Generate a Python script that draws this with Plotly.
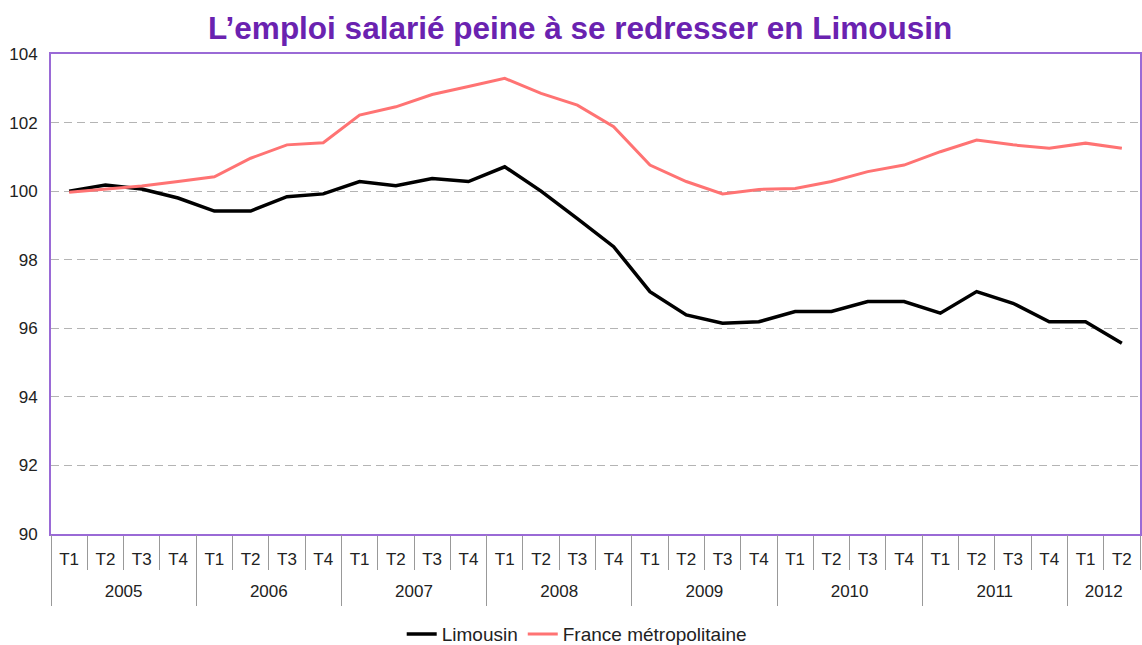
import plotly.graph_objects as go

years = ["2005"] * 4 + ["2006"] * 4 + ["2007"] * 4 + ["2008"] * 4 + ["2009"] * 4 + ["2010"] * 4 + ["2011"] * 4 + ["2012"] * 2
quarters = ["T1", "T2", "T3", "T4"] * 7 + ["T1", "T2"]

limousin = [100.0, 100.18, 100.06, 99.8,
            99.42, 99.42, 99.84, 99.92,
            100.28, 100.16, 100.37, 100.28,
            100.71, 100.0, 99.2, 98.38,
            97.07, 96.39, 96.15, 96.19,
            96.49, 96.49, 96.78, 96.78,
            96.44, 97.07, 96.73, 96.19,
            96.19, 95.56]

france = [99.97, 100.05, 100.15, 100.28,
          100.42, 100.96, 101.35, 101.41,
          102.22, 102.46, 102.82, 103.05,
          103.29, 102.85, 102.51, 101.88,
          100.76, 100.28, 99.92, 100.05,
          100.08, 100.28, 100.57, 100.76,
          101.15, 101.49, 101.35, 101.25,
          101.4, 101.25]

y_ticks = [90, 92, 94, 96, 98, 100, 102, 104]

# positions derived from the category lists
idx = list(range(len(quarters)))
year_names = list(dict.fromkeys(years))
year_centers = [sum(i for i, y in enumerate(years) if y == yn) / years.count(yn) for yn in year_names]
quarter_bounds = [i - 0.5 for i in idx] + [idx[-1] + 0.5]
year_bounds = [years.index(yn) - 0.5 for yn in year_names]
xrange = [idx[0] - 0.5, idx[-1] + 0.5]

FONT = "Liberation Sans, Arial, sans-serif"

fig = go.Figure()
fig.add_trace(go.Scatter(x=idx, y=limousin, mode="lines", name="Limousin",
                         line=dict(color="#000000", width=3.5)))
fig.add_trace(go.Scatter(x=idx, y=france, mode="lines", name="France métropolitaine",
                         line=dict(color="#ff7373", width=3)))

fig.update_layout(
    width=1142, height=645,
    margin=dict(l=51, r=2, t=54, b=111),
    paper_bgcolor="white", plot_bgcolor="white",
    font=dict(family=FONT, size=17, color="#222222"),
    title=dict(text="<b>L’emploi salarié peine à se redresser en Limousin</b>",
               x=0.508, xanchor="center", y=0.957, yanchor="middle",
               font=dict(size=31.5, color="#6a22b0", family=FONT)),
    showlegend=True,
    legend=dict(orientation="h", xref="container", x=0.505, xanchor="center",
                yref="container", y=0.017, yanchor="middle",
                font=dict(size=19, color="#222222"), tracegroupgap=0, borderwidth=0),
    xaxis=dict(
        range=xrange, tickmode="array", tickvals=idx, ticktext=quarters,
        showline=True, linecolor="#9a6ad6", linewidth=2, mirror=True,
        ticks="", ticklabelstandoff=9,
        minor=dict(tickmode="array", tickvals=quarter_bounds, ticks="outside",
                   ticklen=34, tickcolor="#999999", tickwidth=1, showgrid=False),
        showgrid=False, zeroline=False, automargin=False,
        tickfont=dict(size=17, color="#222222"),
    ),
    xaxis2=dict(
        overlaying="x", anchor="y", side="bottom",
        range=xrange, tickmode="array", tickvals=year_centers, ticktext=year_names,
        showline=False, ticks="", ticklabelstandoff=45,
        minor=dict(tickmode="array", tickvals=year_bounds, ticks="outside",
                   ticklen=71, tickcolor="#999999", tickwidth=1, showgrid=False),
        showgrid=False, zeroline=False, automargin=False,
        tickfont=dict(size=17, color="#222222"),
    ),
    yaxis=dict(
        range=[90, 104], tickmode="array", tickvals=y_ticks, ticktext=[str(v) for v in y_ticks],
        showline=True, linecolor="#9a6ad6", linewidth=2, mirror=True,
        showgrid=True, gridcolor="#b4b4b4", gridwidth=1, griddash="8px,5px",
        ticks="", ticklabelstandoff=8, zeroline=False, automargin=False,
        tickfont=dict(size=17, color="#222222"),
    ),
)

# invisible trace to activate the year axis
fig.add_trace(go.Scatter(x=year_centers, y=[None] * len(year_centers), xaxis="x2",
                         showlegend=False, hoverinfo="skip", mode="lines"))

fig.write_html("out.html", config={"displayModeBar": False},
               post_script="document.body.style.margin='0';")
